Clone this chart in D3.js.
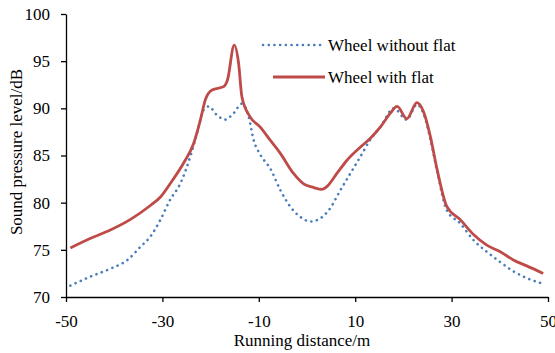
<!DOCTYPE html>
<html>
<head>
<meta charset="utf-8">
<script src="https://cdn.jsdelivr.net/npm/d3@7"></script>
<style>
  body { margin: 0; background: #fff; }
  svg text { font-family: "Liberation Serif", "Times New Roman", serif; fill: #000; }
</style>
</head>
<body>
<div id="chart"></div>
<script>
// distance (m) and level (dB)
var withoutX = [-49.1, -45, -40.8, -37.3, -34.6, -32.5, -30.4, -28.4, -26.3, -24.2, -22.8, -21.5, -20.4, -18.7, -17.0, -15.2, -13.5, -12.1, -11.1, -9.7, -7.6, -5.5, -3.5, -1.4, 0.7, 2.8, 4.8, 6.9, 9.0, 11.1, 13.1, 15.2, 18.0, 20.7, 22.8, 24.2, 25.6, 27.0, 29.0, 31.8, 34.6, 37.3, 40.1, 42.9, 45.6, 48.4]
var withoutY = [71.2, 72.15, 73.0, 73.9, 75.3, 76.4, 78.2, 80.3, 82.0, 84.9, 87.4, 89.8, 90.2, 89.3, 88.8, 89.5, 90.5, 89.1, 86.7, 85.1, 83.6, 81.3, 79.6, 78.5, 78.0, 78.35, 79.4, 81.3, 83.1, 84.9, 86.65, 88.0, 90.0, 88.8, 90.4, 89.4, 86.7, 83.3, 79.2, 77.8, 76.0, 74.8, 73.7, 72.7, 72.0, 71.5]

var withX = [-49.1, -45, -40.8, -36.7, -32.5, -30.4, -28.4, -25.6, -23.5, -22.1, -21.1, -19.7, -17.3, -16.5, -15.1, -14.2, -13.5, -11.8, -9.7, -7.6, -5.5, -2.8, -0.7, 1.4, 3.1, 4.1, 6.2, 8.3, 11.1, 13.1, 15.2, 17.3, 18.7, 20.7, 22.8, 24.2, 25.6, 27.0, 29.0, 31.8, 34.6, 37.3, 40.1, 42.9, 45.6, 49.0]
var withY = [75.2, 76.2, 77.1, 78.2, 79.7, 80.6, 82.0, 84.2, 86.3, 88.8, 90.9, 91.95, 92.3, 93.0, 96.7, 94.8, 91.2, 89.1, 88.0, 86.6, 85.2, 83.1, 82.0, 81.6, 81.4, 81.7, 83.1, 84.5, 85.9, 86.8, 88.0, 89.5, 90.2, 88.9, 90.6, 89.6, 87.0, 83.5, 79.6, 78.2, 76.6, 75.5, 74.8, 73.9, 73.3, 72.5]

var xTicks = [-50, -30, -10, 10, 30, 50]
var yTicks = [70, 75, 80, 85, 90, 95, 100]
var seriesNames = ['Wheel without flat', 'Wheel with flat']

var width = 555
var height = 353
var margin = {top: 14, right: 7, bottom: 56, left: 66}
var serif = 'Liberation Serif, Times New Roman, serif'

var svg = d3.select('#chart').append('svg')
    .attr('width', width)
    .attr('height', height)

var x = d3.scaleLinear().domain([-50, 50]).range([margin.left, width - margin.right])
var y = d3.scaleLinear().domain([70, 100]).range([height - margin.bottom, margin.top])

var xAxis = svg.append('g')
    .attr('transform', 'translate(0,' + (height - margin.bottom) + ')')
    .call(d3.axisBottom(x).tickValues(xTicks).tickSize(5).tickSizeOuter(0).tickPadding(13)
        .tickFormat(function(d) { return d < 0 ? '-' + Math.abs(d) : String(d) }))
var yAxis = svg.append('g')
    .attr('transform', 'translate(' + margin.left + ',0)')
    .call(d3.axisLeft(y).tickValues(yTicks).tickSize(5).tickSizeOuter(0).tickPadding(11))

xAxis.attr('font-family', serif).attr('font-size', 17)
yAxis.attr('font-family', serif).attr('font-size', 17)
svg.selectAll('.domain, .tick line').attr('stroke', '#000').attr('stroke-width', 1.3)
svg.selectAll('.tick text').attr('fill', '#000')

var line = d3.line()
    .x(function(d) { return x(d[0]) })
    .y(function(d) { return y(d[1]) })
    .curve(d3.curveMonotoneX)

var withoutData = d3.zip(withoutX, withoutY)
var withData = d3.zip(withX, withY)

svg.append('path')
    .datum(withoutData)
    .attr('d', line)
    .attr('fill', 'none')
    .attr('stroke', '#4a7ebb')
    .attr('stroke-width', 2.6)
    .attr('stroke-linecap', 'round')
    .attr('stroke-dasharray', '0.1 5.6')

svg.append('path')
    .datum(withData)
    .attr('d', line)
    .attr('fill', 'none')
    .attr('stroke', '#be4b48')
    .attr('stroke-width', 2.8)

// legend
var legend = svg.append('g')
legend.append('line')
    .attr('x1', 263).attr('x2', 322).attr('y1', 45).attr('y2', 45)
    .attr('stroke', '#4a7ebb').attr('stroke-width', 2.6)
    .attr('stroke-linecap', 'round').attr('stroke-dasharray', '0.1 5.6')
legend.append('line')
    .attr('x1', 273).attr('x2', 325).attr('y1', 77).attr('y2', 77)
    .attr('stroke', '#be4b48').attr('stroke-width', 2.8)
legend.selectAll('.label')
    .data(seriesNames)
    .enter().append('text')
    .attr('class', 'label')
    .attr('x', 328)
    .attr('y', function(d, i) { return 51 + i * 32 })
    .attr('font-size', 17)
    .text(function(d) { return d })

// axis titles
svg.append('text')
    .attr('x', 302)
    .attr('y', 346)
    .attr('text-anchor', 'middle')
    .attr('font-size', 17)
    .text('Running distance/m')

svg.append('text')
    .attr('transform', 'translate(22,152) rotate(-90)')
    .attr('text-anchor', 'middle')
    .attr('font-size', 17)
    .text('Sound pressure level/dB')
</script>
</body>
</html>
